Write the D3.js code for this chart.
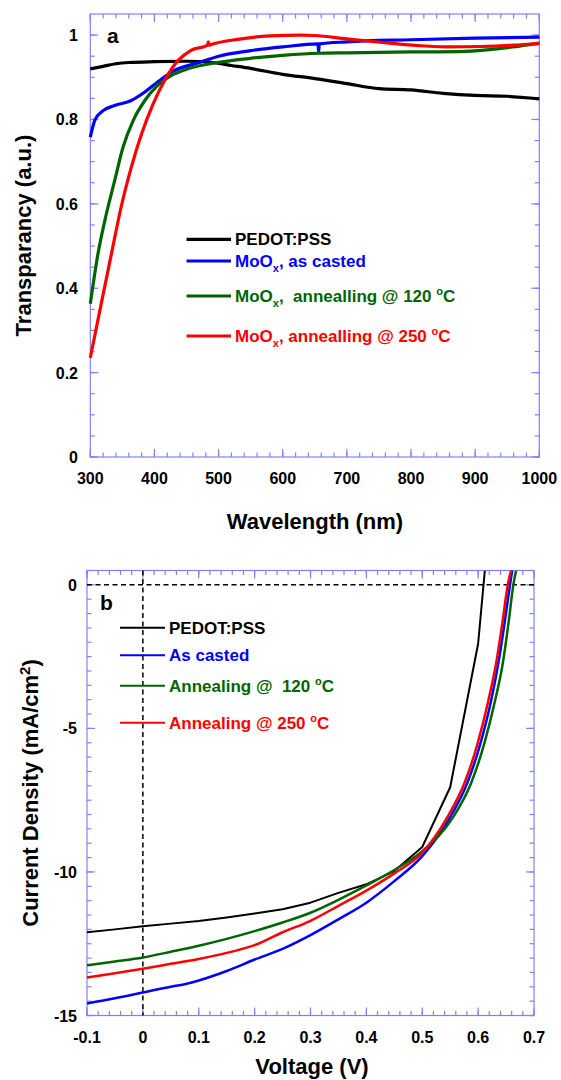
<!DOCTYPE html>
<html>
<head>
<meta charset="utf-8">
<script src="https://d3js.org/d3.v7.min.js"></script>
<title>MoOx transparency and J-V</title>
<style>
  body { margin: 0; background: #fff; }
  text { font-family: Arial, "Liberation Sans", sans-serif; font-weight: bold; }
</style>
</head>
<body>
<div id="chart"></div>
<script>
// ---- panel a : transmission spectra [wavelength nm, transparency]
var specPedot = [[300,0.92],[320,0.926],[340,0.932],[360,0.935],[400,0.937],[450,0.938],[490,0.935],
  [520,0.928],[550,0.921],[600,0.907],[650,0.897],[700,0.885],[750,0.873],[800,0.870],[850,0.862],
  [900,0.857],[950,0.855],[1000,0.849]];
var specCasted = [[300,0.758],[307,0.798],[320,0.821],[338,0.833],[364,0.845],[385,0.865],[405,0.889],
  [430,0.915],[470,0.935],[500,0.95],[550,0.963],[600,0.972],[655,0.979],[656,0.96],[657,0.979],
  [700,0.984],[800,0.989],[900,0.993],[1000,0.995]];
var spec120 = [[300,0.363],[312,0.482],[325,0.576],[338,0.655],[351,0.734],[367,0.798],[385,0.845],
  [405,0.881],[426,0.904],[452,0.92],[494,0.934],[550,0.945],[600,0.952],[656,0.957],[700,0.958],
  [800,0.96],[877,0.961],[918,0.965],[959,0.972],[1000,0.981]];
var spec250 = [[300,0.235],[317,0.363],[333,0.482],[348,0.592],[364,0.687],[380,0.766],[398,0.837],
  [416,0.893],[437,0.94],[457,0.964],[483,0.976],[484,0.984],[485,0.976],[489,0.978],[530,0.99],
  [580,0.998],[627,1.0],[650,0.999],[700,0.991],[752,0.983],[803,0.976],[855,0.972],[908,0.973],
  [959,0.976],[1000,0.98]];

// ---- panel b : J-V curves [voltage V, current density mA/cm2]
var jvPedot = [[-0.1,-12.1],[-0.05,-12.0],[0,-11.89],[0.05,-11.8],[0.1,-11.71],[0.15,-11.59],[0.2,-11.45],
  [0.25,-11.3],[0.3,-11.07],[0.35,-10.73],[0.4,-10.43],[0.45,-9.97],[0.5,-9.13],[0.55,-7.05],
  [0.6,-2.05],[0.612,0.5]];
var jvCasted = [[-0.1,-14.58],[-0.05,-14.4],[0,-14.2],[0.05,-14.0],[0.075,-13.91],[0.1,-13.78],[0.15,-13.45],
  [0.2,-13.05],[0.25,-12.68],[0.3,-12.2],[0.35,-11.65],[0.4,-11.07],[0.45,-10.32],[0.5,-9.45],
  [0.55,-8.09],[0.58,-6.93],[0.604,-5.53],[0.622,-4.14],[0.636,-2.75],[0.648,-1.24],[0.657,0],[0.661,0.5]];
var jv120 = [[-0.1,-13.25],[-0.05,-13.12],[0,-12.98],[0.05,-12.78],[0.1,-12.57],[0.15,-12.33],
  [0.2,-12.06],[0.25,-11.76],[0.3,-11.42],[0.35,-10.97],[0.4,-10.47],[0.45,-9.93],
  [0.5,-9.28],[0.555,-8.1],[0.587,-6.93],[0.611,-5.53],[0.629,-4.14],[0.644,-2.75],[0.655,-1.24],
  [0.663,0],[0.668,0.5]];
var jv250 = [[-0.1,-13.68],[-0.05,-13.53],[0,-13.37],[0.05,-13.2],[0.1,-13.03],[0.165,-12.75],[0.2,-12.55],
  [0.25,-12.1],[0.3,-11.7],[0.35,-11.18],[0.4,-10.65],[0.45,-10.05],[0.5,-9.33],[0.545,-8.09],
  [0.575,-6.93],[0.599,-5.53],[0.617,-4.14],[0.632,-2.75],[0.644,-1.24],[0.653,0],[0.659,0.5]];

var colors = ["#000000", "#0000ff", "#006400", "#ff0000"];
var frameColor = "#8080ff";

var svg = d3.select("#chart").append("svg")
    .attr("width", 561)
    .attr("height", 1080);

// draws frame + inward ticks on all four sides
function frame(x, y, xMajor, xMinor, yMajor, yMinor) {
  var g = svg.append("g");
  var x0 = x.range()[0], x1 = x.range()[1], y0 = y.range()[0], y1 = y.range()[1];
  g.append("rect").attr("x", x0).attr("y", y1).attr("width", x1 - x0).attr("height", y0 - y1)
    .attr("fill", "none").attr("stroke", frameColor).attr("stroke-width", 1.2);
  var xt = xMinor.map(function(v) { return {v: v, len: 4.5}; })
    .concat(xMajor.map(function(v) { return {v: v, len: 8}; }));
  var yt = yMinor.map(function(v) { return {v: v, len: 4.5}; })
    .concat(yMajor.map(function(v) { return {v: v, len: 8}; }));
  xt.forEach(function(t) {
    var px = x(t.v);
    g.append("line").attr("x1", px).attr("x2", px).attr("y1", y0).attr("y2", y0 - t.len);
    g.append("line").attr("x1", px).attr("x2", px).attr("y1", y1).attr("y2", y1 + t.len);
  });
  yt.forEach(function(t) {
    var py = y(t.v);
    g.append("line").attr("x1", x0).attr("x2", x0 + t.len).attr("y1", py).attr("y2", py);
    g.append("line").attr("x1", x1).attr("x2", x1 - t.len).attr("y1", py).attr("y2", py);
  });
  g.selectAll("line").attr("stroke", frameColor).attr("stroke-width", 1.2);
  return g;
}

function tickLabels(x, y, xMajor, yMajor, xFmt, yFmt, xBase, yRight) {
  svg.append("g").selectAll("text").data(xMajor).enter().append("text")
    .attr("x", function(d) { return x(d); })
    .attr("y", xBase)
    .attr("text-anchor", "middle")
    .style("font-size", "16px")
    .text(xFmt);
  svg.append("g").selectAll("text").data(yMajor).enter().append("text")
    .attr("x", yRight)
    .attr("y", function(d) { return y(d) + 6; })
    .attr("text-anchor", "end")
    .style("font-size", "16px")
    .text(yFmt);
}

// legend entry: parts = [[text, kind]] kind: n normal, sub, sup
function legendText(x, y, parts, color) {
  var t = svg.append("text").attr("x", x).attr("y", y).attr("fill", color).style("font-size", "17px");
  var shift = 0;
  parts.forEach(function(p) {
    var dy = 0, size = "17px";
    if (p[1] === "sub") { dy = 5 - shift; shift = 5; size = "11px"; }
    else if (p[1] === "sup") { dy = -7 - shift; shift = -7; size = "11px"; }
    else { dy = -shift; shift = 0; }
    t.append("tspan").attr("dy", dy).style("font-size", size).text(p[0]);
  });
}

// =============== panel a
var xa = d3.scaleLinear().domain([300, 1000]).range([90.3, 539.3]);
var ya = d3.scaleLinear().domain([0, 1.05]).range([457, 14]);

frame(xa, ya, d3.range(300, 1001, 100), d3.range(300, 1001, 20),
  d3.range(0, 1.01, 0.2), d3.range(0, 1.049, 0.05));
tickLabels(xa, ya, d3.range(300, 1001, 100), [0, 0.2, 0.4, 0.6, 0.8, 1],
  function(d) { return d; }, function(d) { return d3.format("")(+d.toFixed(1)); }, 484, 78);

var lineA = d3.line().x(function(d) { return xa(d[0]); }).y(function(d) { return ya(d[1]); })
  .curve(d3.curveMonotoneX);
[specPedot, specCasted, spec120, spec250].forEach(function(s, i) {
  svg.append("path").attr("d", lineA(s)).attr("fill", "none")
    .attr("stroke", colors[i]).attr("stroke-width", 3.2).attr("stroke-linejoin", "round");
});

svg.append("text").attr("x", 107).attr("y", 43).style("font-size", "21px").text("a");

var legA = [
  {y: 239.3, parts: [["PEDOT:PSS", "n"]]},
  {y: 261, parts: [["MoO", "n"], ["x", "sub"], [", as casted", "n"]]},
  {y: 296, parts: [["MoO", "n"], ["x", "sub"], [",\u00a0 annealling @ 120 ", "n"], ["o", "sup"], ["C", "n"]]},
  {y: 336, parts: [["MoO", "n"], ["x", "sub"], [", annealling @ 250 ", "n"], ["o", "sup"], ["C", "n"]]}
];
legA.forEach(function(l, i) {
  svg.append("line").attr("x1", 186.5).attr("x2", 231).attr("y1", l.y).attr("y2", l.y)
    .attr("stroke", colors[i]).attr("stroke-width", 3.2);
  legendText(235, l.y + 6, l.parts, colors[i]);
});

svg.append("text").attr("transform", "translate(31,235.5) rotate(-90)")
  .attr("text-anchor", "middle").style("font-size", "22px").text("Transparancy (a.u.)");
svg.append("text").attr("x", 315).attr("y", 529)
  .attr("text-anchor", "middle").style("font-size", "22px").text("Wavelength (nm)");

// =============== panel b
var xb = d3.scaleLinear().domain([-0.1, 0.7]).range([87, 534]);
var yb = d3.scaleLinear().domain([-15, 0.5]).range([1015.5, 570.5]);

svg.append("clipPath").attr("id", "clipb").append("rect")
  .attr("x", 87).attr("y", 570.5).attr("width", 447).attr("height", 445);

frame(xb, yb, d3.range(-0.1, 0.701, 0.1), d3.range(-0.1, 0.701, 0.02),
  d3.range(-15, 0.01, 5), d3.range(-15, 0.51, 0.5));
tickLabels(xb, yb, [-0.1, 0, 0.1, 0.2, 0.3, 0.4, 0.5, 0.6, 0.7], [-15, -10, -5, 0],
  function(d) { return d; }, function(d) { return d; }, 1043, 77);

// dashed zero lines
svg.append("line").attr("x1", xb(-0.1)).attr("x2", xb(0.7)).attr("y1", yb(0)).attr("y2", yb(0))
  .attr("stroke", "#000").attr("stroke-width", 1.5).attr("stroke-dasharray", "5,3.5");
svg.append("line").attr("x1", xb(0)).attr("x2", xb(0)).attr("y1", yb(0.5)).attr("y2", yb(-15))
  .attr("stroke", "#000").attr("stroke-width", 1.5).attr("stroke-dasharray", "5,3.5");

var lineB = d3.line().x(function(d) { return xb(d[0]); }).y(function(d) { return yb(d[1]); });
[jvPedot, jvCasted, jv120, jv250].forEach(function(s, i) {
  svg.append("path").attr("d", lineB.curve(i === 0 ? d3.curveLinear : d3.curveMonotoneX)(s))
    .attr("clip-path", "url(#clipb)")
    .attr("fill", "none").attr("stroke", colors[i])
    .attr("stroke-width", i === 0 ? 2 : 2.5).attr("stroke-linejoin", "round");
});

svg.append("text").attr("x", 100).attr("y", 610).style("font-size", "21px").text("b");

var legB = [
  {y: 627.7, parts: [["PEDOT:PSS", "n"]]},
  {y: 655.3, parts: [["As casted", "n"]]},
  {y: 685.7, parts: [["Annealing @\u00a0 120 ", "n"], ["o", "sup"], ["C", "n"]]},
  {y: 722.7, parts: [["Annealing @ 250 ", "n"], ["o", "sup"], ["C", "n"]]}
];
legB.forEach(function(l, i) {
  svg.append("line").attr("x1", 120).attr("x2", 165).attr("y1", l.y).attr("y2", l.y)
    .attr("stroke", colors[i]).attr("stroke-width", 2);
  legendText(169, l.y + 6, l.parts, i === 0 ? "#000" : colors[i]);
});

var yt = svg.append("text").attr("transform", "translate(38,793) rotate(-90)")
  .attr("text-anchor", "middle").style("font-size", "22px");
yt.append("tspan").text("Current Density (mA/cm");
yt.append("tspan").attr("dy", -8).style("font-size", "15px").text("2");
yt.append("tspan").attr("dy", 8).text(")");
svg.append("text").attr("x", 312).attr("y", 1074)
  .attr("text-anchor", "middle").style("font-size", "22px").text("Voltage (V)");
</script>
</body>
</html>
